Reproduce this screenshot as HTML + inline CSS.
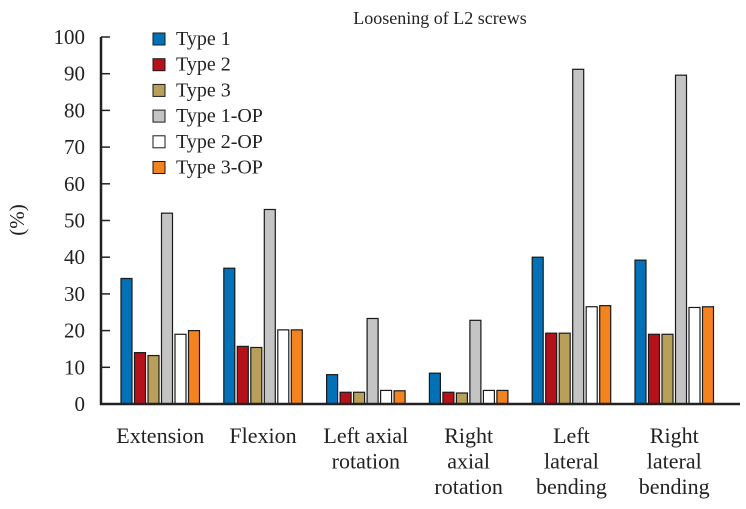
<!DOCTYPE html>
<html><head><meta charset="utf-8"><style>
body{margin:0;background:#fff;}
svg text{font-family:"Liberation Serif",serif;fill:#222;}
</style></head><body>
<svg id="c" width="746" height="504"></svg>
<script>
const categories=[["Extension"],["Flexion"],["Left axial","rotation"],["Right","axial","rotation"],["Left","lateral","bending"],["Right","lateral","bending"]];
const seriesNames=["Type 1","Type 2","Type 3","Type 1-OP","Type 2-OP","Type 3-OP"];
const type1=[34.2,37,8,8.4,40,39.2];
const type2=[14,15.7,3.2,3.2,19.3,19];
const type3=[13.2,15.4,3.2,3,19.3,19];
const type1op=[52,53,23.3,22.8,91.2,89.6];
const type2op=[19,20.2,3.7,3.7,26.5,26.3];
const type3op=[20,20.2,3.6,3.7,26.8,26.5];
const yTicks=[0,10,20,30,40,50,60,70,80,90,100];
const series=[type1,type2,type3,type1op,type2op,type3op];
const colors=["#0271b8","#b5111b","#b9a05a","#c4c4c4","#ffffff","#f4821f"];
const NS="http://www.w3.org/2000/svg";
const svg=document.getElementById('c');
function mk(t,a,p){const e=document.createElementNS(NS,t);for(const k in a)e.setAttribute(k,a[k]);(p||svg).appendChild(e);return e;}
const y=v=>404-v*3.67;
const x=(g,s)=>121+g*102.8+s*13.5;
let t=mk('text',{x:440,y:24,'text-anchor':'middle','font-size':18});t.textContent="Loosening of L2 screws";

t=mk('text',{x:24,y:220,'text-anchor':'middle','font-size':21,transform:'rotate(-90 24 220)'});t.textContent="(%)";

yTicks.forEach(v=>{
  const l=mk('line',{x1:101,x2:110,y1:y(v),y2:y(v),stroke:'#222','stroke-width':1.5});
  
  const tt=mk('text',{x:85,y:y(v)+7,'text-anchor':'end','font-size':21});tt.textContent=v;
  
});
series.forEach((arr,s)=>arr.forEach((v,g)=>{
  const r=mk('rect',{x:x(g,s),y:y(v),width:11,height:404-y(v),fill:colors[s],stroke:'#1a1a1a','stroke-width':1.2});
  
}));
let ax=mk('line',{x1:101,x2:101,y1:37,y2:405,stroke:'#222','stroke-width':2.5});

ax=mk('line',{x1:100,x2:740,y1:404,y2:404,stroke:'#222','stroke-width':2.5});

categories.forEach((lines,g)=>{
  const cx=x(g,2.5)+5.5;
  lines.forEach((ln,i)=>{
    const tt=mk('text',{x:cx,y:443+i*25.5,'text-anchor':'middle','font-size':22});tt.textContent=ln;
    
  });
});
seriesNames.forEach((n,i)=>{
  const cy=39+i*25.7;
  const r=mk('rect',{x:153,y:cy-6,width:12,height:12,fill:colors[i],stroke:'#1a1a1a','stroke-width':1});
  
  const tt=mk('text',{x:176,y:cy+6,'font-size':20});tt.textContent=n;
  
});
</script>
</body></html>
